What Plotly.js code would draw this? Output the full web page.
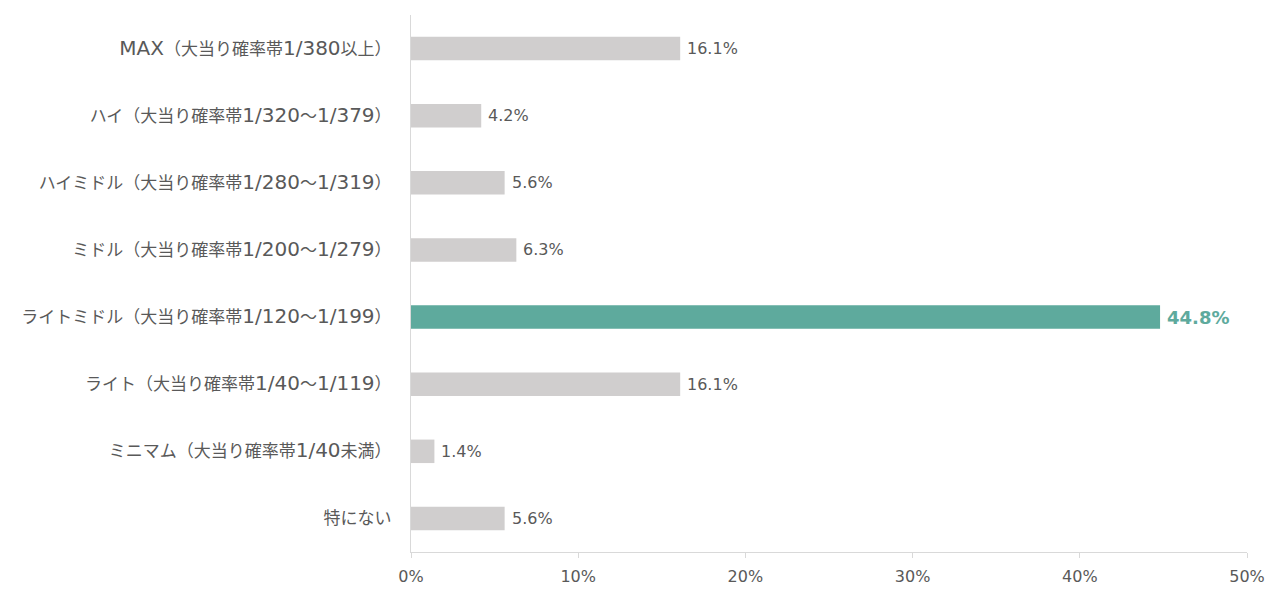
<!DOCTYPE html>
<html>
<head>
<meta charset="utf-8">
<script src="https://cdn.plot.ly/plotly-3.0.1.min.js"></script>
<style>html,body{margin:0;padding:0;background:#fff;}#chart{width:1280px;height:592px;}</style>
</head>
<body>
<div id="chart"></div>
<script>
const categories = [
  "MAX（大当り確率帯1/380以上）",
  "ハイ（大当り確率帯1/320～1/379）",
  "ハイミドル（大当り確率帯1/280～1/319）",
  "ミドル（大当り確率帯1/200～1/279）",
  "ライトミドル（大当り確率帯1/120～1/199）",
  "ライト（大当り確率帯1/40～1/119）",
  "ミニマム（大当り確率帯1/40未満）",
  "特にない"
];
const values = [16.1, 4.2, 5.6, 6.3, 44.8, 16.1, 1.4, 5.6];
const highlightIndex = 4;
const tickVals = [0, 10, 20, 30, 40, 50];
const tickText = ["0%", "10%", "20%", "30%", "40%", "50%"];

const FONT = "DejaVu Sans, Noto Sans CJK JP, sans-serif";
const GRAY = "#d0cece";
const TEAL = "#5eaa9d";

// Latin runs rendered a bit larger (Meiryo-like proportions)
const labelText = categories.map(c => c.replace(/[\x20-\x7E]+/g, m => '<span style="font-size:20px">' + m + '</span>'));

const colors = values.map((v, i) => i === highlightIndex ? TEAL : GRAY);

const trace = {
  type: "bar",
  orientation: "h",
  x: values,
  y: categories,
  marker: {color: colors},
  width: 0.35,
  hoverinfo: "none"
};

const annotations = values.map((v, i) => ({
  x: v, y: categories[i], xref: "x", yref: "y",
  text: i === highlightIndex ? "<b>" + v.toFixed(1) + "%</b>" : v.toFixed(1) + "%",
  showarrow: false, xanchor: "left", yanchor: "middle", xshift: 5,
  font: i === highlightIndex ? {family: FONT, size: 18, color: TEAL} : {family: FONT, size: 16, color: "#595959"}
}));

const layout = {
  width: 1280, height: 592,
  margin: {l: 411, r: 33, t: 15, b: 40},
  paper_bgcolor: "#fff", plot_bgcolor: "#fff",
  showlegend: false,
  font: {family: FONT, color: "#595959"},
  xaxis: {
    range: [0, 50], tickvals: tickVals, ticktext: tickText,
    showgrid: false, zeroline: false,
    showline: true, linecolor: "#d9d9d9", linewidth: 1,
    ticks: "outside", ticklen: 5, tickcolor: "#d9d9d9",
    ticklabelstandoff: 5,
    tickfont: {family: FONT, size: 16, color: "#595959"},
    fixedrange: true
  },
  yaxis: {
    autorange: "reversed",
    tickmode: "array", tickvals: categories, ticktext: labelText,
    showgrid: false, zeroline: false,
    showline: true, linecolor: "#d9d9d9", linewidth: 1,
    ticks: "", ticklabelstandoff: 15,
    tickfont: {family: FONT, size: 17, color: "#595959"},
    fixedrange: true
  },
  annotations: annotations
};

Plotly.newPlot("chart", [trace], layout, {displayModeBar: false, staticPlot: true});
</script>
</body>
</html>
